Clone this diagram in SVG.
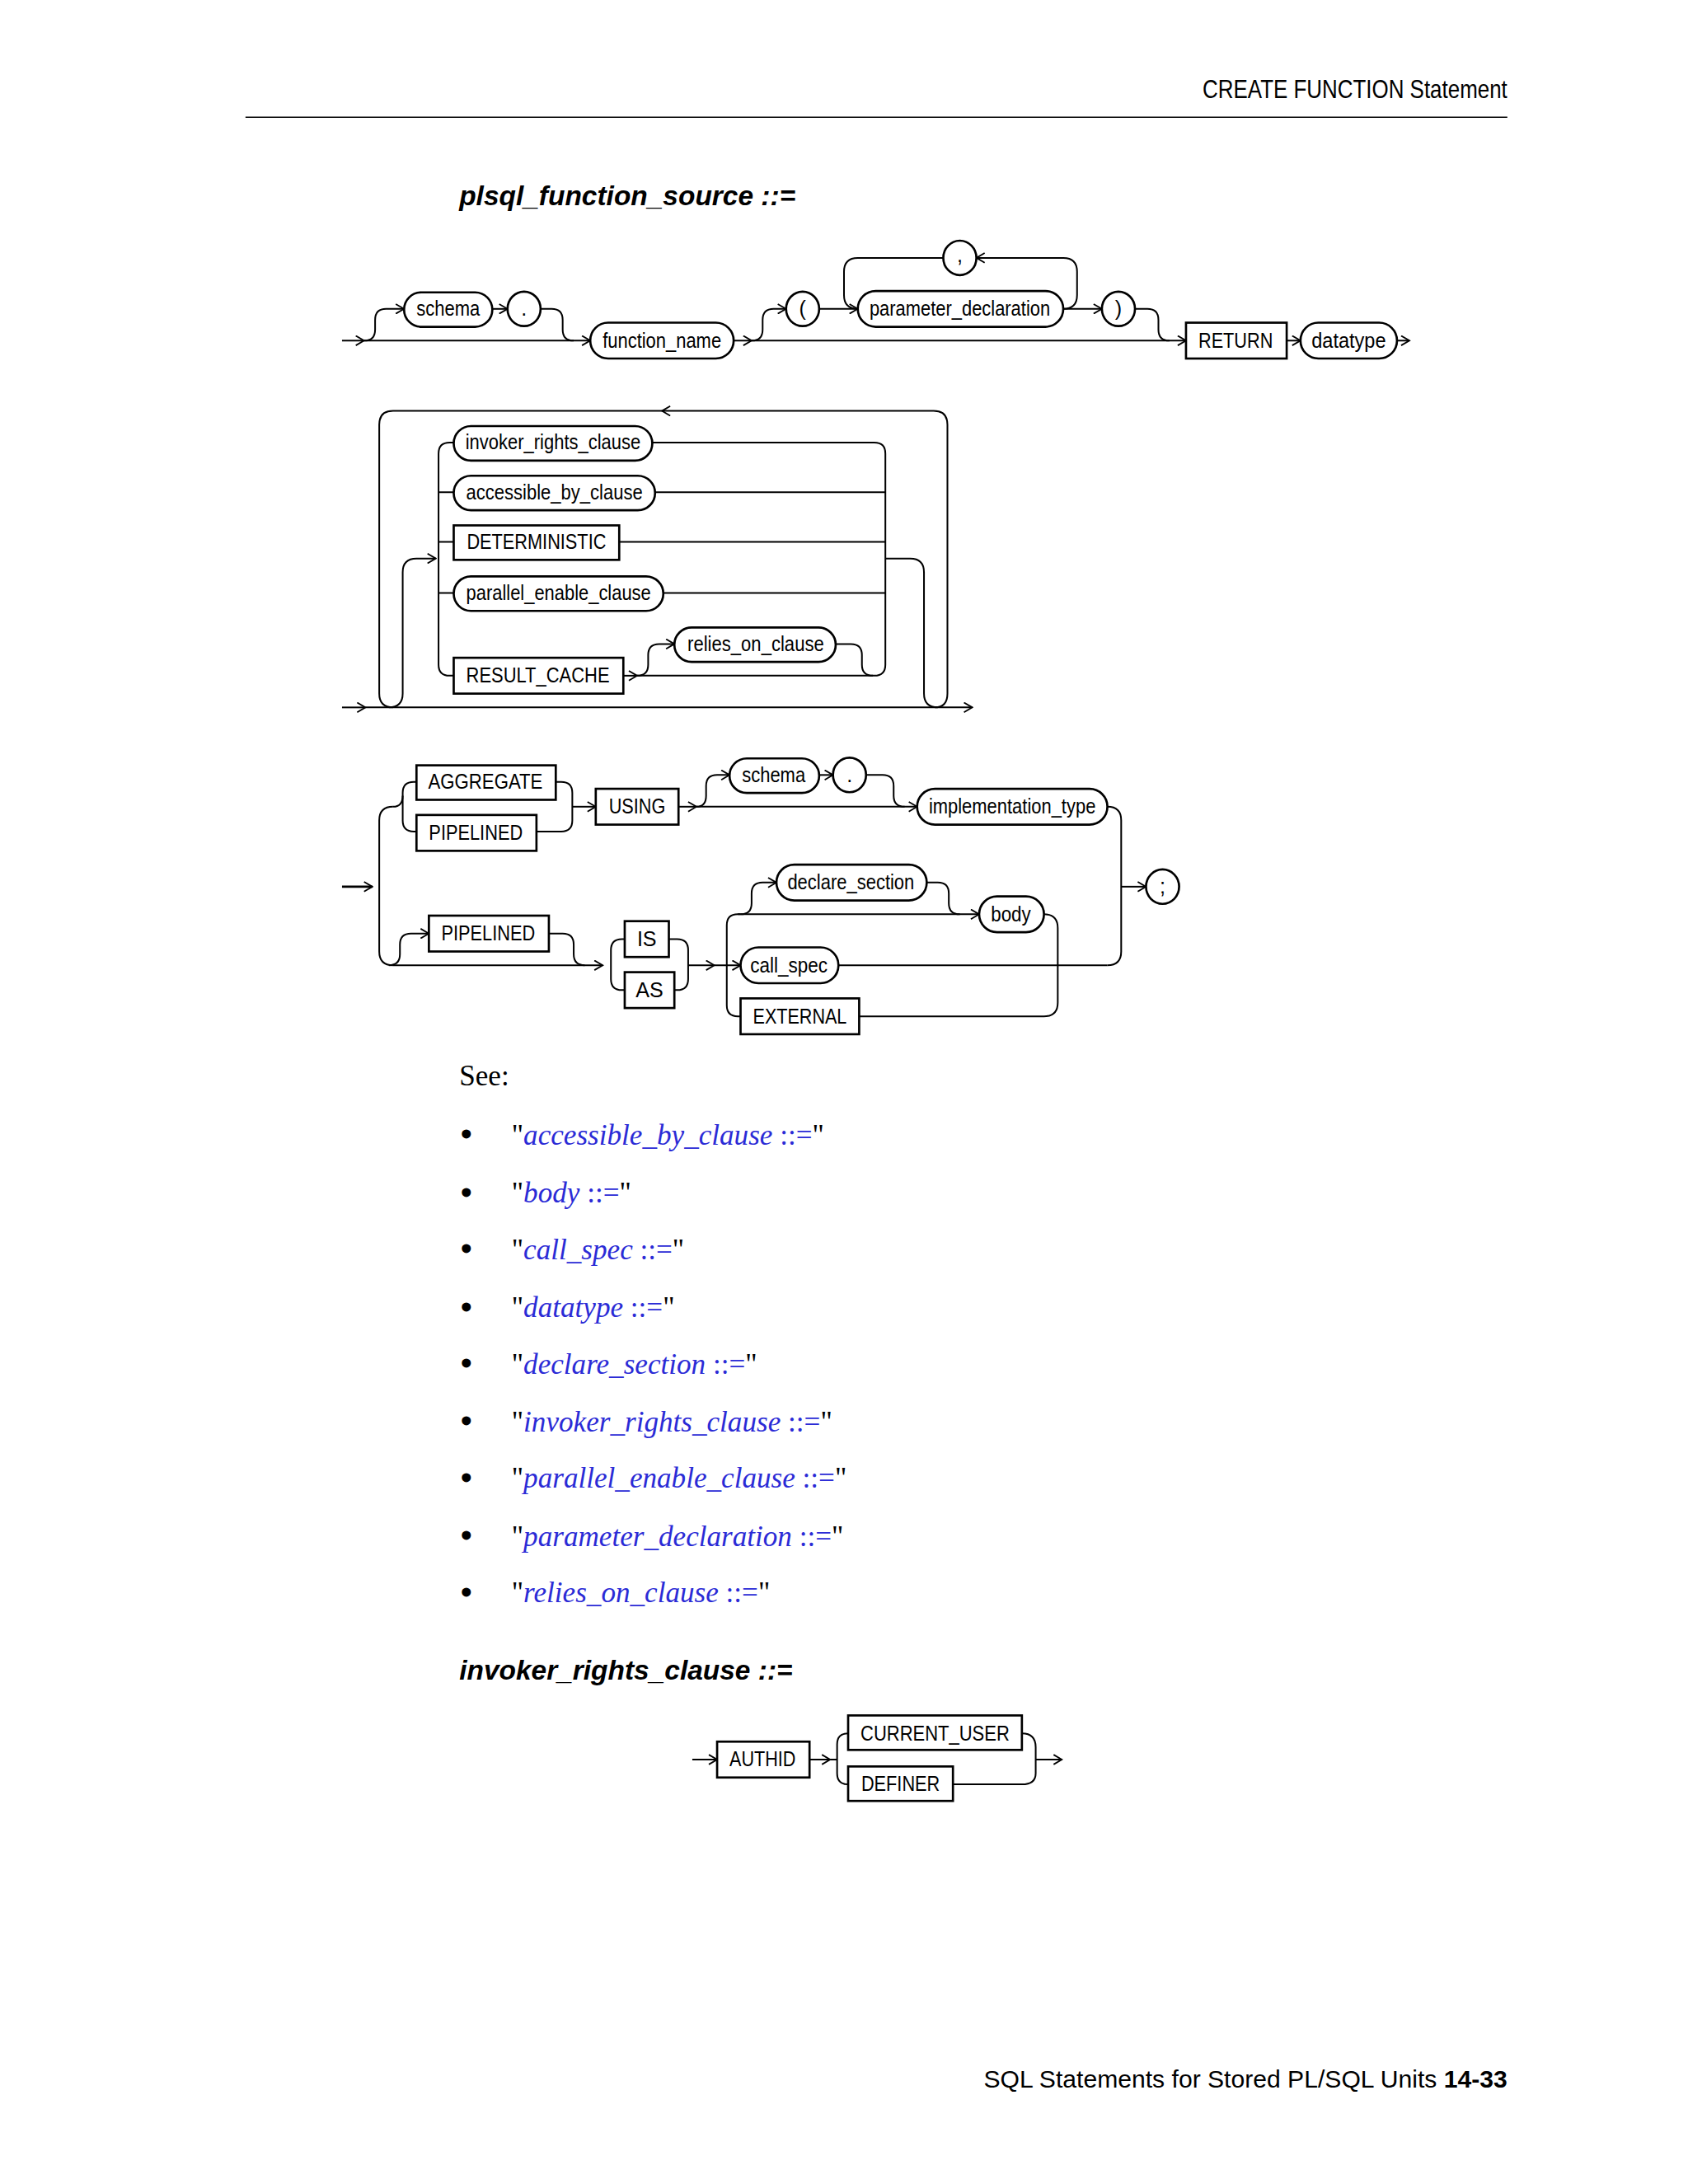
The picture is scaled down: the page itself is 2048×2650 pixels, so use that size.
<svg xmlns="http://www.w3.org/2000/svg" width="2048" height="2650" viewBox="0 0 2048 2650">
<style>
.n{fill:#fff;stroke:#000;stroke-width:1.6}
.c path{fill:none;stroke:#000;stroke-width:1.2}
.t{font-family:"Liberation Sans",Arial,sans-serif;font-size:15px;text-anchor:middle}
.h{font-family:"Liberation Sans",Arial,sans-serif;font-size:19px}
.ti{font-family:"Liberation Sans",Arial,sans-serif;font-size:20px;font-weight:bold;font-style:italic}
.s{font-family:"Liberation Serif",serif;font-size:21px}
.l{fill:#2b2bd6;font-style:italic}
.lq{fill:#2b2bd6}
</style>
<defs>
<marker id="a" markerWidth="8" markerHeight="8" refX="7" refY="4" orient="auto" markerUnits="userSpaceOnUse"><path d="M1,0.5 L7,4 L1,7.5" fill="none" stroke="#000" stroke-width="1.1"/></marker>
</defs>
<rect width="2048" height="2650" fill="#fff"/>
<g transform="scale(1.6732)">
<g id="header">
<text class="h" x="1093" y="71" text-anchor="end" textLength="221" lengthAdjust="spacingAndGlyphs">CREATE FUNCTION Statement</text>
<path d="M178,85 H1093" stroke="#000" stroke-width="1"/>
<text class="ti" x="333" y="149">plsql_function_source ::=</text>
</g>
<g class="c" id="connectors1">
<path d="M248,247 H264" marker-end="url(#a)"/>
<path d="M264,247 H428" marker-end="url(#a)"/>
<path d="M264,247 Q272,247 272,239 V232 Q272,224 280,224 H293" marker-end="url(#a)"/>
<path d="M357,224 H368" marker-end="url(#a)"/>
<path d="M392,224 H400 Q408,224 408,232 V239 Q408,247 416,247"/>
<path d="M532,247 H545" marker-end="url(#a)"/>
<path d="M545,247 H860" marker-end="url(#a)"/>
<path d="M545,247 Q553,247 553,239 V232 Q553,224 561,224 H570" marker-end="url(#a)"/>
<path d="M594,224 H622" marker-end="url(#a)"/>
<path d="M771,224 H799" marker-end="url(#a)"/>
<path d="M771,224 Q781,224 781,214 V197 Q781,187 771,187 H708" marker-end="url(#a)"/>
<path d="M684,187 H622 Q612,187 612,197 V214 Q612,224 622,224"/>
<path d="M823,224 H832 Q840,224 840,232 V239 Q840,247 848,247"/>
<path d="M933,247 H943" marker-end="url(#a)"/>
<path d="M1013,247 H1022" marker-end="url(#a)"/>
</g>
<g id="schema1"><rect class="n" x="293" y="212" width="64" height="25" rx="12.5"/><text class="t" x="325" y="229" textLength="46" lengthAdjust="spacingAndGlyphs">schema</text></g>
<g id="dot1"><ellipse class="n" cx="380" cy="224" rx="12" ry="12.5"/><text class="t" x="380" y="229">.</text></g>
<g id="function_name"><rect class="n" x="428" y="234" width="104" height="26" rx="13"/><text class="t" x="480" y="252" textLength="86" lengthAdjust="spacingAndGlyphs">function_name</text></g>
<g id="lparen"><ellipse class="n" cx="582" cy="224" rx="12" ry="12.5"/><text class="t" x="582" y="229">(</text></g>
<g id="parameter_declaration"><rect class="n" x="622" y="211" width="149" height="26" rx="13"/><text class="t" x="696" y="229" textLength="131" lengthAdjust="spacingAndGlyphs">parameter_declaration</text></g>
<g id="comma"><ellipse class="n" cx="696" cy="187" rx="12" ry="12.5"/><text class="t" x="696" y="190">,</text></g>
<g id="rparen"><ellipse class="n" cx="811" cy="224" rx="12" ry="12.5"/><text class="t" x="811" y="229">)</text></g>
<g id="RETURN"><rect class="n" x="860" y="234" width="73" height="26"/><text class="t" x="896" y="252" textLength="54" lengthAdjust="spacingAndGlyphs">RETURN</text></g>
<g id="datatype"><rect class="n" x="943" y="234" width="70" height="26" rx="13"/><text class="t" x="978" y="252" textLength="54" lengthAdjust="spacingAndGlyphs">datatype</text></g>

<g class="c" id="connectors2">
<path d="M248,513 H265" marker-end="url(#a)"/>
<path d="M265,513 H705" marker-end="url(#a)"/>
<path d="M678,513 Q687,513 687,503 V308 Q687,298 677,298 H480" marker-end="url(#a)"/>
<path d="M480,298 H285 Q275,298 275,308 V503 Q275,513 285,513"/>
<path d="M282,513 Q292,513 292,503 V415 Q292,405 302,405 H316" marker-end="url(#a)"/>
<path d="M329,321 H326 Q318,321 318,329 V482 Q318,490 326,490 H329"/>
<path d="M318,357 H329 M318,393 H329 M318,430 H329"/>
<path d="M473,321 H634 Q642,321 642,329 V482 Q642,490 634,490 H462"/>
<path d="M475,357 H642 M449,393 H642 M481,430 H642"/>
<path d="M452,490 H462" marker-end="url(#a)"/>
<path d="M462,490 Q470,490 470,482 V475 Q470,467 478,467 H489" marker-end="url(#a)"/>
<path d="M606,467 H617 Q625,467 625,475 V482 Q625,490 633,490"/>
<path d="M642,405 H660 Q670,405 670,415 V503 Q670,513 680,513"/>
</g>
<g id="invoker_rights_clause"><rect class="n" x="329" y="309" width="144" height="25" rx="12.5"/><text class="t" x="401" y="326" textLength="127" lengthAdjust="spacingAndGlyphs">invoker_rights_clause</text></g>
<g id="accessible_by_clause"><rect class="n" x="329" y="345" width="146" height="25" rx="12.5"/><text class="t" x="402" y="362" textLength="128" lengthAdjust="spacingAndGlyphs">accessible_by_clause</text></g>
<g id="DETERMINISTIC"><rect class="n" x="329" y="381" width="120" height="25"/><text class="t" x="389" y="398" textLength="101" lengthAdjust="spacingAndGlyphs">DETERMINISTIC</text></g>
<g id="parallel_enable_clause"><rect class="n" x="329" y="418" width="152" height="25" rx="12.5"/><text class="t" x="405" y="435" textLength="134" lengthAdjust="spacingAndGlyphs">parallel_enable_clause</text></g>
<g id="relies_on_clause"><rect class="n" x="489" y="455" width="117" height="25" rx="12.5"/><text class="t" x="548" y="472" textLength="99" lengthAdjust="spacingAndGlyphs">relies_on_clause</text></g>
<g id="RESULT_CACHE"><rect class="n" x="329" y="477" width="123" height="26"/><text class="t" x="390" y="495" textLength="104" lengthAdjust="spacingAndGlyphs">RESULT_CACHE</text></g>

<g class="c" id="connectors3">
<path d="M248,643 H270" marker-end="url(#a)" style="stroke-width:1.6"/>
<path d="M285,585 Q275,585 275,595 V690 Q275,700 285,700"/>
<path d="M285,585 Q292,585 292,577 V575 Q292,567 300,567 H302"/>
<path d="M292,577 V595 Q292,603 300,603 H302"/>
<path d="M403,567 H407 Q415,567 415,575 V595 Q415,603 407,603 H389"/>
<path d="M415,585 H432" marker-end="url(#a)"/>
<path d="M492,585 H505" marker-end="url(#a)"/>
<path d="M505,585 H665" marker-end="url(#a)"/>
<path d="M505,585 Q512,585 512,577 V570 Q512,562 520,562 H529" marker-end="url(#a)"/>
<path d="M594,562 H604" marker-end="url(#a)"/>
<path d="M628,562 H640 Q648,562 648,570 V577 Q648,585 656,585"/>
<path d="M803,585 Q813,585 813,595 V690 Q813,700 803,700"/>
<path d="M813,643 H831" marker-end="url(#a)"/>
<path d="M285,700 H437" marker-end="url(#a)"/>
<path d="M282,700 Q290,700 290,692 V685 Q290,677 298,677 H311" marker-end="url(#a)"/>
<path d="M398,677 H408 Q416,677 416,685 V692 Q416,700 424,700"/>
<path d="M453,681 H451 Q443,681 443,689 V710 Q443,718 451,718 H453"/>
<path d="M485,681 H491 Q499,681 499,689 V710 Q499,718 491,718 H489"/>
<path d="M499,700 H518" marker-end="url(#a)"/>
<path d="M518,700 H537" marker-end="url(#a)"/>
<path d="M537,663 H535 Q527,663 527,671 V729 Q527,737 535,737 H537"/>
<path d="M535,663 H710" marker-end="url(#a)"/>
<path d="M537,663 Q545,663 545,655 V648 Q545,640 553,640 H563" marker-end="url(#a)"/>
<path d="M672,640 H680 Q688,640 688,648 V655 Q688,663 696,663"/>
<path d="M757,663 Q767,663 767,673 V727 Q767,737 757,737 H623"/>
<path d="M608,700 H803"/>
</g>
<g id="AGGREGATE"><rect class="n" x="302" y="555" width="101" height="25"/><text class="t" x="352" y="572" textLength="83" lengthAdjust="spacingAndGlyphs">AGGREGATE</text></g>
<g id="PIPELINED1"><rect class="n" x="302" y="591" width="87" height="26"/><text class="t" x="345" y="609" textLength="68" lengthAdjust="spacingAndGlyphs">PIPELINED</text></g>
<g id="USING"><rect class="n" x="432" y="572" width="60" height="26"/><text class="t" x="462" y="590" textLength="41" lengthAdjust="spacingAndGlyphs">USING</text></g>
<g id="schema2"><rect class="n" x="529" y="550" width="65" height="25" rx="12.5"/><text class="t" x="561" y="567" textLength="46" lengthAdjust="spacingAndGlyphs">schema</text></g>
<g id="dot2"><ellipse class="n" cx="616" cy="562" rx="12" ry="12.5"/><text class="t" x="616" y="567">.</text></g>
<g id="implementation_type"><rect class="n" x="665" y="572" width="138" height="26" rx="13"/><text class="t" x="734" y="590" textLength="121" lengthAdjust="spacingAndGlyphs">implementation_type</text></g>
<g id="semicolon"><ellipse class="n" cx="843" cy="643" rx="12" ry="12.5"/><text class="t" x="843" y="648">;</text></g>
<g id="PIPELINED2"><rect class="n" x="311" y="664" width="87" height="26"/><text class="t" x="354" y="682" textLength="68" lengthAdjust="spacingAndGlyphs">PIPELINED</text></g>
<g id="IS"><rect class="n" x="453" y="668" width="32" height="26"/><text class="t" x="469" y="686">IS</text></g>
<g id="AS"><rect class="n" x="453" y="705" width="36" height="26"/><text class="t" x="471" y="723">AS</text></g>
<g id="declare_section"><rect class="n" x="563" y="627" width="109" height="26" rx="13"/><text class="t" x="617" y="645" textLength="92" lengthAdjust="spacingAndGlyphs">declare_section</text></g>
<g id="body"><rect class="n" x="710" y="650" width="47" height="26" rx="13"/><text class="t" x="733" y="668" textLength="29" lengthAdjust="spacingAndGlyphs">body</text></g>
<g id="call_spec"><rect class="n" x="537" y="687" width="71" height="26" rx="13"/><text class="t" x="572" y="705" textLength="56" lengthAdjust="spacingAndGlyphs">call_spec</text></g>
<g id="EXTERNAL"><rect class="n" x="537" y="724" width="86" height="26"/><text class="t" x="580" y="742" textLength="68" lengthAdjust="spacingAndGlyphs">EXTERNAL</text></g>

<g id="see">
<text class="s" x="333" y="787">See:</text>
<g font-family="Liberation Serif,serif" font-size="24" font-weight="bold">
<text x="334" y="831">•</text><text x="334" y="873">•</text><text x="334" y="914">•</text><text x="334" y="956">•</text><text x="334" y="997">•</text><text x="334" y="1039">•</text><text x="334" y="1080">•</text><text x="334" y="1122">•</text><text x="334" y="1163">•</text>
</g>
<text class="s" x="371" y="830">"<tspan class="l">accessible_by_clause</tspan><tspan class="lq"> ::=</tspan>"</text>
<text class="s" x="371" y="872">"<tspan class="l">body</tspan><tspan class="lq"> ::=</tspan>"</text>
<text class="s" x="371" y="913">"<tspan class="l">call_spec</tspan><tspan class="lq"> ::=</tspan>"</text>
<text class="s" x="371" y="955">"<tspan class="l">datatype</tspan><tspan class="lq"> ::=</tspan>"</text>
<text class="s" x="371" y="996">"<tspan class="l">declare_section</tspan><tspan class="lq"> ::=</tspan>"</text>
<text class="s" x="371" y="1038">"<tspan class="l">invoker_rights_clause</tspan><tspan class="lq"> ::=</tspan>"</text>
<text class="s" x="371" y="1079">"<tspan class="l">parallel_enable_clause</tspan><tspan class="lq"> ::=</tspan>"</text>
<text class="s" x="371" y="1121">"<tspan class="l">parameter_declaration</tspan><tspan class="lq"> ::=</tspan>"</text>
<text class="s" x="371" y="1162">"<tspan class="l">relies_on_clause</tspan><tspan class="lq"> ::=</tspan>"</text>
<text class="ti" x="333" y="1218">invoker_rights_clause ::=</text>
</g>

<g class="c" id="connectors4">
<path d="M502,1276 H520" marker-end="url(#a)"/>
<path d="M587,1276 H602" marker-end="url(#a)"/>
<path d="M615,1257 Q607,1257 607,1265 V1286 Q607,1294 615,1294"/>
<path d="M602,1276 H607"/>
<path d="M741,1257 Q751,1257 751,1267 V1286 Q751,1294 741,1294 H691"/>
<path d="M751,1276 H770" marker-end="url(#a)"/>
</g>
<g id="AUTHID"><rect class="n" x="520" y="1263" width="67" height="26"/><text class="t" x="553" y="1281" textLength="48" lengthAdjust="spacingAndGlyphs">AUTHID</text></g>
<g id="CURRENT_USER"><rect class="n" x="615" y="1244" width="126" height="25"/><text class="t" x="678" y="1262" textLength="108" lengthAdjust="spacingAndGlyphs">CURRENT_USER</text></g>
<g id="DEFINER"><rect class="n" x="615" y="1281" width="76" height="25"/><text class="t" x="653" y="1299" textLength="57" lengthAdjust="spacingAndGlyphs">DEFINER</text></g>

<g id="footer"><text x="1093" y="1514" text-anchor="end" font-family="Liberation Sans,Arial,sans-serif" font-size="18">SQL Statements for Stored PL/SQL Units  <tspan font-weight="bold">14-33</tspan></text></g>
</g>
</svg>
